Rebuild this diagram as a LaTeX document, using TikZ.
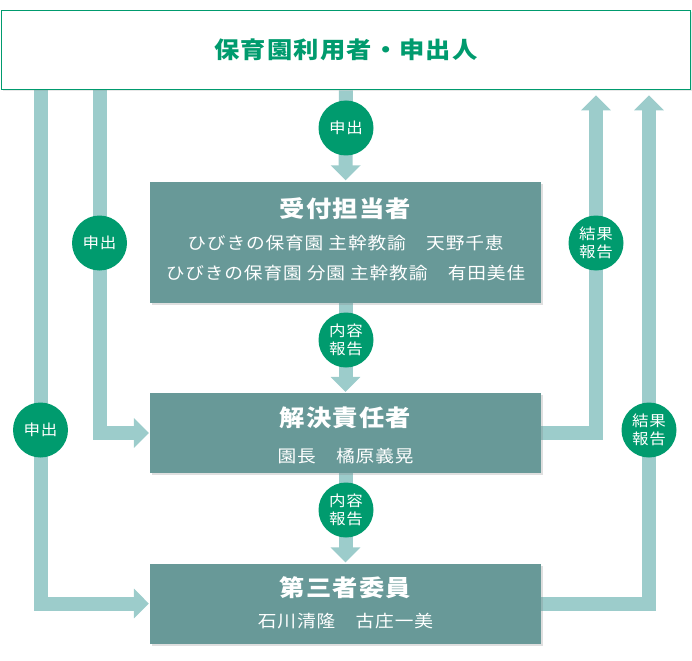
\documentclass[tikz,border=0pt]{standalone}
\usepackage{fontspec}
\setmainfont{Noto Sans CJK JP}[FakeStretch=1.1,LetterSpace=5]
\usetikzlibrary{arrows.meta,shadows,backgrounds}

\definecolor{kgreen}{HTML}{009B6E}
\definecolor{kpanel}{HTML}{689998}
\definecolor{kflow}{HTML}{9CCCCB}

\tikzset{
  userbox/.style={draw=kgreen, line width=1.6pt, fill=white, minimum width=689pt, minimum height=79pt,
    text=kgreen, font=\fontsize{23pt}{27pt}\selectfont\bfseries,
    drop shadow={opacity=0.18, shadow xshift=1.5pt, shadow yshift=-2pt}},
  panel/.style={fill=kpanel, minimum width=391pt, inner sep=0pt,
    drop shadow={opacity=0.25, shadow xshift=2pt, shadow yshift=-2pt}},
  ttl/.style={text=white, inner sep=0pt, font=\fontsize{23pt}{27pt}\selectfont\bfseries},
  sub/.style={text=white, inner sep=0pt, font=\fontsize{17pt}{20pt}\selectfont},
  tag/.style={circle, fill=kgreen, text=white, minimum size=55pt, inner sep=0pt, align=center,
    font=\fontsize{15pt}{18pt}\selectfont},
  flow/.style={draw=kflow, line width=14pt, -{Triangle[width=29pt,length=15pt]}},
}

\begin{document}
\begin{tikzpicture}[x=1pt,y=-1pt]
\useasboundingbox (0,0) rectangle (692,660);

% 申出人
\node[userbox] (user) at (346,50) {保育園利用者・申出人};

% 各担当の枠
\node[panel, minimum height=120pt] (recv) at (345.5,242.5) {};
\node[ttl] (recvT) at (345.5,209) {受付担当者};
\node[sub] (recvA) at (345.5,243.5) {ひびきの保育園 主幹教諭　天野千恵};
\node[sub] (recvB) at (345.5,273.5) {ひびきの保育園 分園 主幹教諭　有田美佳};

\node[panel, minimum height=80pt] (resolve) at (345.5,433) {};
\node[ttl] (resolveT) at (345.5,418) {解決責任者};
\node[sub] (resolveA) at (345.5,456) {園長　橘原義晃};

\node[panel, minimum height=80pt] (third) at (345.5,603.5) {};
\node[ttl] (thirdT) at (345.5,587.5) {第三者委員};
\node[sub] (thirdA) at (345.5,621) {石川清隆　古庄一美};

% 矢印の通り道
\coordinate (lo) at (40.5,0);
\coordinate (li) at (99.5,0);
\coordinate (ri) at (596,0);
\coordinate (ro) at (649,0);

\begin{pgfonlayer}{background}
  \draw[flow, shorten >=2pt] (user) -- (recv);
  \draw[flow, shorten >=1pt] (recv) -- (resolve);
  \draw[flow, shorten >=1pt] (resolve) -- (third);
  \draw[flow, shorten >=1pt] (user.south -| li) |- (resolve.west);
  \draw[flow, shorten >=1pt] (user.south -| lo) |- (third.west);
  \draw[flow, shorten >=5pt] (resolve.east) -| (ri |- user.south);
  \draw[flow, shorten >=5pt] (third.east) -| (ro |- user.south);
\end{pgfonlayer}

% ラベル
\node[tag] (t1) at (346,128) {申出};
\node[tag] (t2) at (99.5,243) {申出};
\node[tag] (t3) at (40.5,430) {申出};
\node[tag] (t4) at (346,340) {内容\\報告};
\node[tag] (t5) at (346,510) {内容\\報告};
\node[tag] (t6) at (596,243) {結果\\報告};
\node[tag] (t7) at (649,430) {結果\\報告};
\end{tikzpicture}
\end{document}
